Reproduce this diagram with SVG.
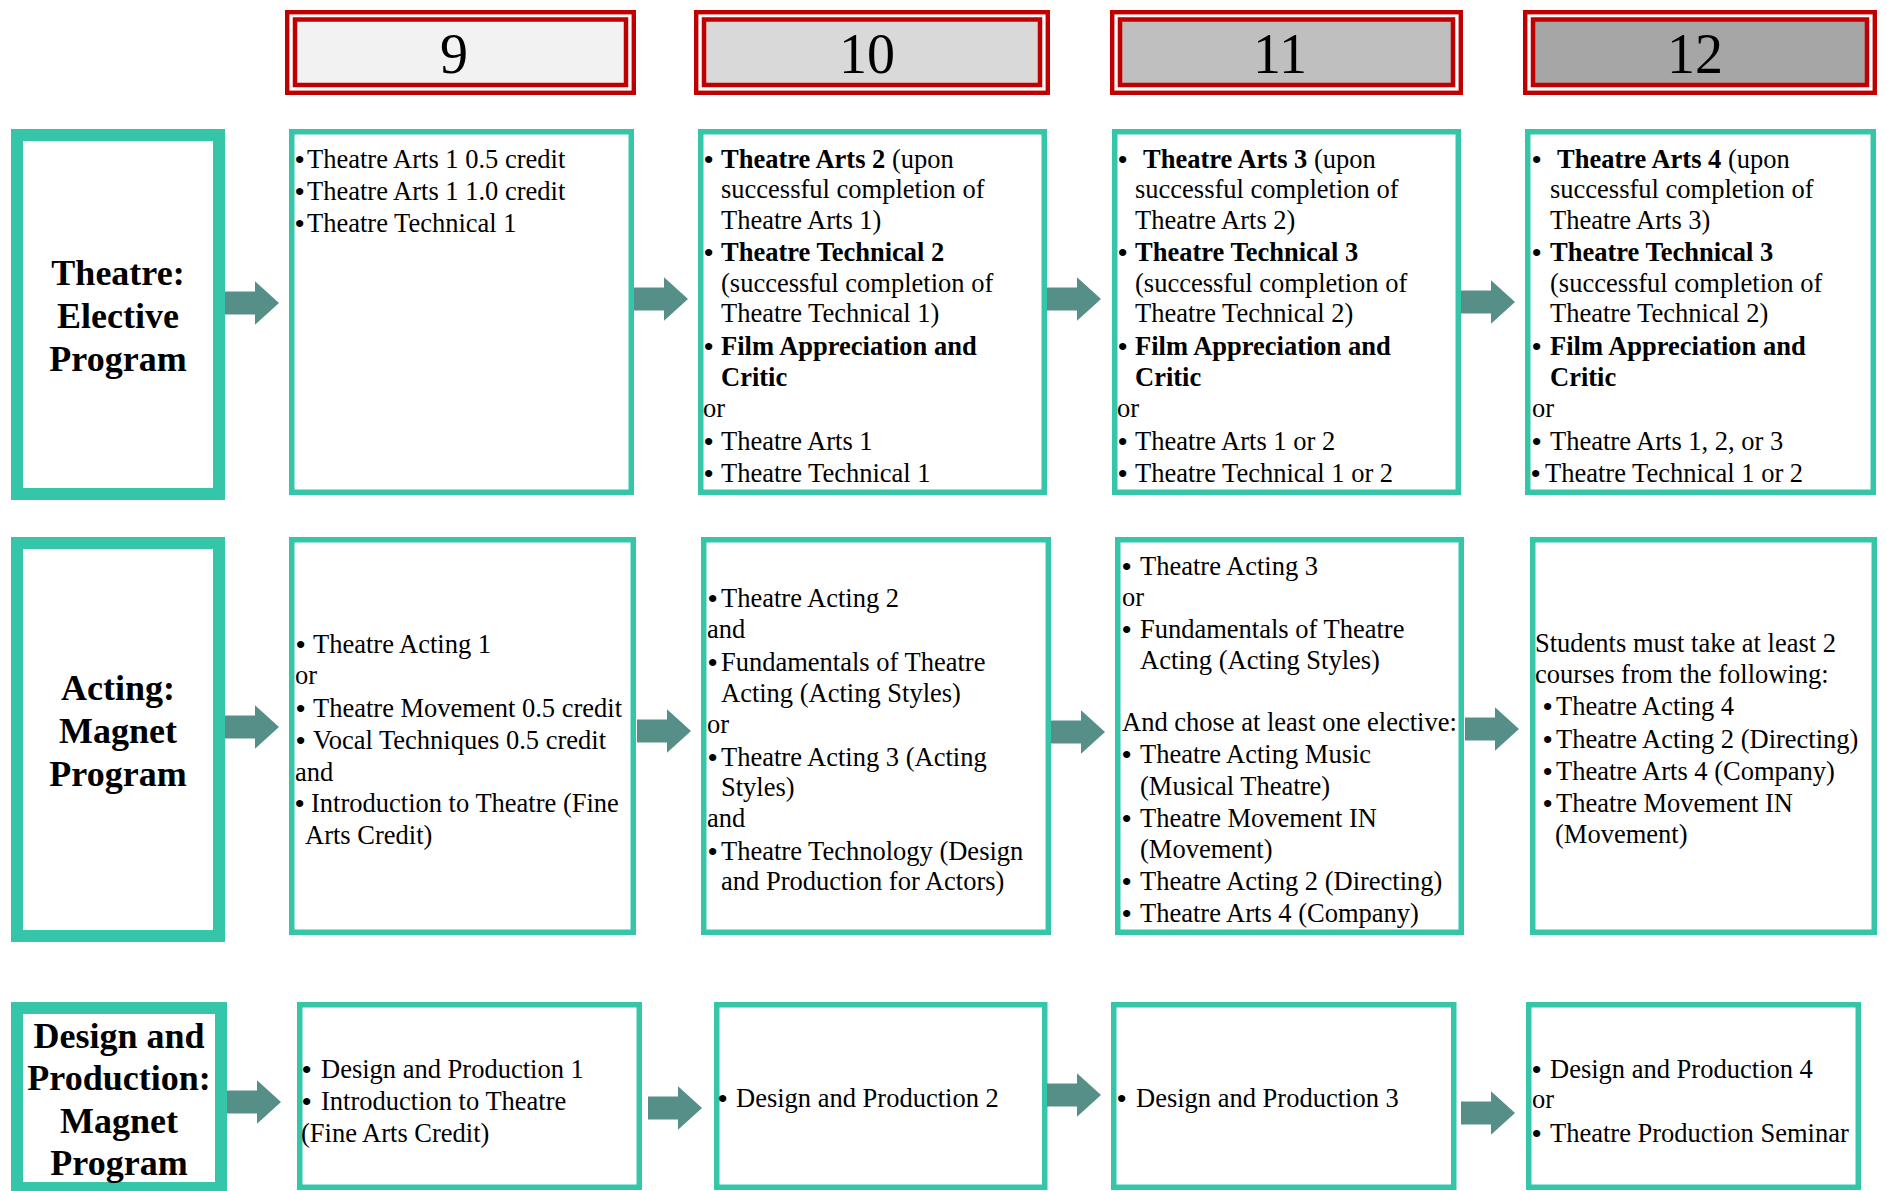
<svg xmlns="http://www.w3.org/2000/svg" xmlns:xlink="http://www.w3.org/1999/xlink" width="1887" height="1191" viewBox="0 0 1887 1191">
<style>
text{font-family:"Liberation Serif","Times New Roman",serif;fill:#000}
.t{font-size:26.5px}
.bu{font-family:"Liberation Sans",Arial,sans-serif}
.b{font-weight:bold}
.lbl{font-size:36px;font-weight:bold;text-anchor:middle}
.hd{font-size:56px;text-anchor:middle}
.box{fill:#fff;stroke:#35c6aa;stroke-width:5.5}
.lbox{fill:#fff;stroke:#35c6aa;stroke-width:12}
.ho{fill:none;stroke:#c00000;stroke-width:4.4}
.hi{stroke:#c00000;stroke-width:4.5}
.arr{fill:#558f88}
</style>
<defs>
<path id="arrow" d="M0,-11.5 H30 V-21.7 L54,0 L30,21.7 V11.5 H0 Z"/>
</defs>
<rect width="1887" height="1191" fill="#fff"/>

<!-- headers -->
<g id="h9">
<rect class="ho" x="287.2" y="12.2" width="346.6" height="80.6"/>
<rect class="hi" x="295" y="19.5" width="331" height="65.5" fill="#f2f2f2"/>
<text class="hd" x="454" y="73">9</text>
</g>
<g id="h10">
<rect class="ho" x="696.2" y="12.2" width="351.6" height="80.6"/>
<rect class="hi" x="704" y="19.5" width="336" height="65.5" fill="#d9d9d9"/>
<text class="hd" x="867" y="73">10</text>
</g>
<g id="h11">
<rect class="ho" x="1112.2" y="12.2" width="348.6" height="80.6"/>
<rect class="hi" x="1120" y="19.5" width="333" height="65.5" fill="#bfbfbf"/>
<text class="hd" x="1280" y="73">11</text>
</g>
<g id="h12">
<rect class="ho" x="1525.2" y="12.2" width="349.6" height="80.6"/>
<rect class="hi" x="1533" y="19.5" width="334" height="65.5" fill="#a6a6a6"/>
<text class="hd" x="1695" y="73">12</text>
</g>

<!-- row 1 -->
<g id="lbl-theatre">
<rect class="lbox" x="17" y="135" width="202" height="359"/>
<text class="lbl" x="118" y="285">Theatre:</text>
<text class="lbl" x="118" y="328">Elective</text>
<text class="lbl" x="118" y="371">Program</text>
</g>
<g id="r1c9">
<rect class="box" x="291.75" y="131.75" width="339.5" height="360.5"/>
<text class="t" y="168"><tspan class="bu" x="295">•</tspan><tspan x="307">Theatre Arts 1 0.5 credit</tspan></text>
<text class="t" y="200"><tspan class="bu" x="295">•</tspan><tspan x="307">Theatre Arts 1 1.0 credit</tspan></text>
<text class="t" y="232"><tspan class="bu" x="295">•</tspan><tspan x="307">Theatre Technical 1</tspan></text>
</g>
<g id="r1c10">
<rect class="box" x="700.75" y="131.75" width="343.5" height="360.5"/>
<text class="t" y="168"><tspan class="bu" x="704">•</tspan><tspan x="721" class="b">Theatre Arts 2</tspan> (upon</text>
<text class="t" x="721" y="198">successful completion of</text>
<text class="t" x="721" y="229">Theatre Arts 1)</text>
<text class="t" y="261"><tspan class="bu" x="704">•</tspan><tspan x="721" class="b">Theatre Technical 2</tspan></text>
<text class="t" x="721" y="292">(successful completion of</text>
<text class="t" x="721" y="322">Theatre Technical 1)</text>
<text class="t" y="355"><tspan class="bu" x="704">•</tspan><tspan x="721" class="b">Film Appreciation and</tspan></text>
<text class="t b" x="721" y="386">Critic</text>
<text class="t" x="703" y="417">or</text>
<text class="t" y="450"><tspan class="bu" x="704">•</tspan><tspan x="721">Theatre Arts 1</tspan></text>
<text class="t" y="482"><tspan class="bu" x="704">•</tspan><tspan x="721">Theatre Technical 1</tspan></text>
</g>
<g id="r1c11">
<rect class="box" x="1114.75" y="131.75" width="343.5" height="360.5"/>
<text class="t" y="168"><tspan class="bu" x="1118">•</tspan><tspan x="1143" class="b">Theatre Arts 3</tspan> (upon</text>
<text class="t" x="1135" y="198">successful completion of</text>
<text class="t" x="1135" y="229">Theatre Arts 2)</text>
<text class="t" y="261"><tspan class="bu" x="1118">•</tspan><tspan x="1135" class="b">Theatre Technical 3</tspan></text>
<text class="t" x="1135" y="292">(successful completion of</text>
<text class="t" x="1135" y="322">Theatre Technical 2)</text>
<text class="t" y="355"><tspan class="bu" x="1118">•</tspan><tspan x="1135" class="b">Film Appreciation and</tspan></text>
<text class="t b" x="1135" y="386">Critic</text>
<text class="t" x="1117" y="417">or</text>
<text class="t" y="450"><tspan class="bu" x="1118">•</tspan><tspan x="1135">Theatre Arts 1 or 2</tspan></text>
<text class="t" y="482"><tspan class="bu" x="1118">•</tspan><tspan x="1135">Theatre Technical 1 or 2</tspan></text>
</g>
<g id="r1c12">
<rect class="box" x="1527.75" y="131.75" width="345.5" height="360.5"/>
<text class="t" y="168"><tspan class="bu" x="1532">•</tspan><tspan x="1557" class="b">Theatre Arts 4</tspan> (upon</text>
<text class="t" x="1550" y="198">successful completion of</text>
<text class="t" x="1550" y="229">Theatre Arts 3)</text>
<text class="t" y="261"><tspan class="bu" x="1532">•</tspan><tspan x="1550" class="b">Theatre Technical 3</tspan></text>
<text class="t" x="1550" y="292">(successful completion of</text>
<text class="t" x="1550" y="322">Theatre Technical 2)</text>
<text class="t" y="355"><tspan class="bu" x="1532">•</tspan><tspan x="1550" class="b">Film Appreciation and</tspan></text>
<text class="t b" x="1550" y="386">Critic</text>
<text class="t" x="1532" y="417">or</text>
<text class="t" y="450"><tspan class="bu" x="1532">•</tspan><tspan x="1550">Theatre Arts 1, 2, or 3</tspan></text>
<text class="t" y="482"><tspan class="bu" x="1531">•</tspan><tspan x="1545">Theatre Technical 1 or 2</tspan></text>
</g>

<!-- row 2 -->
<g id="lbl-acting">
<rect class="lbox" x="17" y="543" width="202" height="393"/>
<text class="lbl" x="118" y="700">Acting:</text>
<text class="lbl" x="118" y="743">Magnet</text>
<text class="lbl" x="118" y="786">Program</text>
</g>
<g id="r2c9">
<rect class="box" x="291.75" y="539.75" width="341.5" height="392.5"/>
<text class="t" y="653"><tspan class="bu" x="296">•</tspan><tspan x="313">Theatre Acting 1</tspan></text>
<text class="t" x="295" y="684">or</text>
<text class="t" y="717"><tspan class="bu" x="296">•</tspan><tspan x="313">Theatre Movement 0.5 credit</tspan></text>
<text class="t" y="749"><tspan class="bu" x="296">•</tspan><tspan x="313">Vocal Techniques 0.5 credit</tspan></text>
<text class="t" x="295" y="781">and</text>
<text class="t" y="812"><tspan class="bu" x="295">•</tspan><tspan x="311">Introduction to Theatre (Fine</tspan></text>
<text class="t" x="305" y="844">Arts Credit)</text>
</g>
<g id="r2c10">
<rect class="box" x="703.75" y="539.75" width="344.5" height="392.5"/>
<text class="t" y="607"><tspan class="bu" x="708">•</tspan><tspan x="721">Theatre Acting 2</tspan></text>
<text class="t" x="707" y="638">and</text>
<text class="t" y="671"><tspan class="bu" x="708">•</tspan><tspan x="721">Fundamentals of Theatre</tspan></text>
<text class="t" x="721" y="702">Acting (Acting Styles)</text>
<text class="t" x="707" y="733">or</text>
<text class="t" y="766"><tspan class="bu" x="708">•</tspan><tspan x="721">Theatre Acting 3 (Acting</tspan></text>
<text class="t" x="721" y="796">Styles)</text>
<text class="t" x="707" y="827">and</text>
<text class="t" y="860"><tspan class="bu" x="708">•</tspan><tspan x="721">Theatre Technology (Design</tspan></text>
<text class="t" x="721" y="890">and Production for Actors)</text>
</g>
<g id="r2c11">
<rect class="box" x="1117.75" y="539.75" width="343.5" height="392.5"/>
<text class="t" y="575"><tspan class="bu" x="1122">•</tspan><tspan x="1140">Theatre Acting 3</tspan></text>
<text class="t" x="1122" y="606">or</text>
<text class="t" y="638"><tspan class="bu" x="1122">•</tspan><tspan x="1140">Fundamentals of Theatre</tspan></text>
<text class="t" x="1140" y="669">Acting (Acting Styles)</text>
<text class="t" x="1122" y="731">And chose at least one elective:</text>
<text class="t" y="763"><tspan class="bu" x="1122">•</tspan><tspan x="1140">Theatre Acting Music</tspan></text>
<text class="t" x="1140" y="795">(Musical Theatre)</text>
<text class="t" y="827"><tspan class="bu" x="1122">•</tspan><tspan x="1140">Theatre Movement IN</tspan></text>
<text class="t" x="1140" y="858">(Movement)</text>
<text class="t" y="890"><tspan class="bu" x="1122">•</tspan><tspan x="1140">Theatre Acting 2 (Directing)</tspan></text>
<text class="t" y="922"><tspan class="bu" x="1122">•</tspan><tspan x="1140">Theatre Arts 4 (Company)</tspan></text>
</g>
<g id="r2c12">
<rect class="box" x="1532.75" y="539.75" width="341.5" height="392.5"/>
<text class="t" x="1535" y="652">Students must take at least 2</text>
<text class="t" x="1535" y="683">courses from the following:</text>
<text class="t" y="715"><tspan class="bu" x="1543">•</tspan><tspan x="1556">Theatre Acting 4</tspan></text>
<text class="t" y="748"><tspan class="bu" x="1543">•</tspan><tspan x="1556">Theatre Acting 2 (Directing)</tspan></text>
<text class="t" y="780"><tspan class="bu" x="1543">•</tspan><tspan x="1556">Theatre Arts 4 (Company)</tspan></text>
<text class="t" y="812"><tspan class="bu" x="1543">•</tspan><tspan x="1556">Theatre Movement IN</tspan></text>
<text class="t" x="1555" y="843">(Movement)</text>
</g>

<!-- row 3 -->
<g id="lbl-design">
<rect class="lbox" x="17" y="1008" width="204" height="180"/>
<text class="lbl" x="119" y="1048">Design and</text>
<text class="lbl" x="119" y="1090">Production:</text>
<text class="lbl" x="119" y="1133">Magnet</text>
<text class="lbl" x="119" y="1175">Program</text>
</g>
<g id="r3c9">
<rect class="box" x="299.75" y="1004.75" width="339.5" height="182.5"/>
<text class="t" y="1078"><tspan class="bu" x="302">•</tspan><tspan x="321">Design and Production 1</tspan></text>
<text class="t" y="1110"><tspan class="bu" x="302">•</tspan><tspan x="321">Introduction to Theatre</tspan></text>
<text class="t" x="301" y="1142">(Fine Arts Credit)</text>
</g>
<g id="r3c10">
<rect class="box" x="716.75" y="1004.75" width="328" height="182.5"/>
<text class="t" y="1107"><tspan class="bu" x="718">•</tspan><tspan x="736">Design and Production 2</tspan></text>
</g>
<g id="r3c11">
<rect class="box" x="1113.75" y="1004.75" width="340" height="182.5"/>
<text class="t" y="1107"><tspan class="bu" x="1117">•</tspan><tspan x="1136">Design and Production 3</tspan></text>
</g>
<g id="r3c12">
<rect class="box" x="1528.75" y="1004.75" width="329.5" height="182.5"/>
<text class="t" y="1078"><tspan class="bu" x="1532">•</tspan><tspan x="1550">Design and Production 4</tspan></text>
<text class="t" x="1532" y="1108">or</text>
<text class="t" y="1142"><tspan class="bu" x="1532">•</tspan><tspan x="1550">Theatre Production Seminar</tspan></text>
</g>

<!-- connectors -->
<g id="connectors" class="arr">
<use xlink:href="#arrow" transform="translate(225,303)"/>
<use xlink:href="#arrow" transform="translate(634,299)"/>
<use xlink:href="#arrow" transform="translate(1047,299)"/>
<use xlink:href="#arrow" transform="translate(1461,302)"/>
<use xlink:href="#arrow" transform="translate(225,727)"/>
<use xlink:href="#arrow" transform="translate(637,731)"/>
<use xlink:href="#arrow" transform="translate(1051,732)"/>
<use xlink:href="#arrow" transform="translate(1465,729)"/>
<use xlink:href="#arrow" transform="translate(227,1102)"/>
<use xlink:href="#arrow" transform="translate(648,1108)"/>
<use xlink:href="#arrow" transform="translate(1047,1095)"/>
<use xlink:href="#arrow" transform="translate(1461,1113)"/>
</g>
</svg>
